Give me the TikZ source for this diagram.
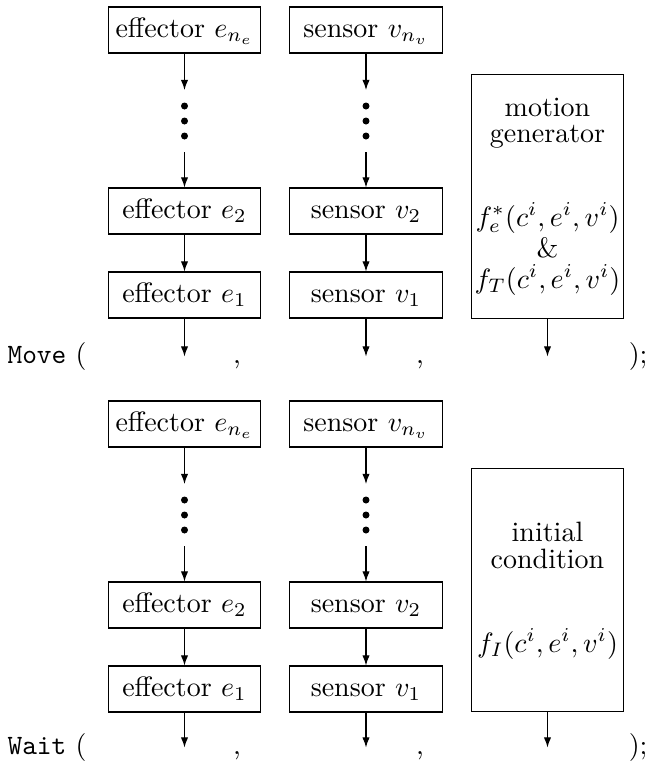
\documentclass[tikz,border=0pt]{standalone}
\usetikzlibrary{arrows.meta}
\begin{document}
\begin{tikzpicture}[x=0.35714pt,y=-0.35714pt,
  box/.style={draw,line width=0.4pt,minimum width=54.5pt,minimum height=16.4pt,
              inner sep=0pt,text height=7pt,text depth=2pt},
  tallbox/.style={draw,line width=0.4pt,minimum width=54pt,minimum height=87pt,inner sep=0pt},
  arr/.style={line width=0.4pt,-{Latex[length=3.6pt,width=2.6pt]}},
  lbl/.style={inner sep=0pt,anchor=base}]
\useasboundingbox (0,0) rectangle (647,765);

\foreach \o/\b/\cmd/\t in {0/M/Move/363, 394/W/Wait/754} {
  \node[box] (\b e3) at (184.5,30+\o) {effector $e_{n_e}$};
  \node[box] (\b e2) at (184.5,211+\o) {effector $e_2$};
  \node[box] (\b e1) at (184.5,295+\o) {effector $e_1$};
  \node[box] (\b v3) at (366,30+\o) {sensor $v_{n_v}$};
  \node[box] (\b v2) at (366,211+\o) {sensor $v_2$};
  \node[box] (\b v1) at (366,295+\o) {sensor $v_1$};
  \foreach \c/\x in {e/184.5, v/366} {
    \coordinate (\b\c a) at (\x,90+\o);
    \coordinate (\b\c b) at (\x,152+\o);
    \coordinate (\b\c o) at (\x,\t-6.5);
    \draw[arr] (\b\c3) -- (\b\c a);
    \draw[arr] (\b\c b) -- (\b\c2);
    \draw[arr] (\b\c2) -- (\b\c1);
    \draw[arr] (\b\c1) -- (\b\c o);
    \foreach \d in {106,121,136} \fill (\x,\d+\o) circle[radius=1.25pt];
  }
  \coordinate (\b go) at (547.5,\t-6.5);
  \node[lbl,anchor=base west] (\b cmd) at (7,\t) {\texttt{\cmd} (};
  \node[lbl] (\b c1) at (237,\t) {,};
  \node[lbl] (\b c2) at (420,\t) {,};
  \node[lbl,anchor=base east] (\b end) at (648,\t) {);};
}

% motion generator
\node[tallbox] (Mg) at (547.5,196.5) {};
\node[lbl] (Mg1) at (547.5,116) {motion};
\node[lbl] (Mg2) at (547.5,142) {generator};
\node[lbl] (Mg3) at (547.5,226) {$f_e^*(c^i,e^i,v^i)$};
\node[lbl] (Mg4) at (547.5,257) {\&};
\node[lbl] (Mg5) at (547.5,288) {$f_T(c^i,e^i,v^i)$};
\draw[arr] (Mg) -- (Mgo);

% initial condition
\node[tallbox] (Wg) at (547.5,590) {};
\node[lbl] (Wg1) at (547.5,541) {initial};
\node[lbl] (Wg2) at (547.5,568) {condition};
\node[lbl] (Wg3) at (547.5,652) {$f_I(c^i,e^i,v^i)$};
\draw[arr] (Wg) -- (Wgo);
\end{tikzpicture}
\end{document}
